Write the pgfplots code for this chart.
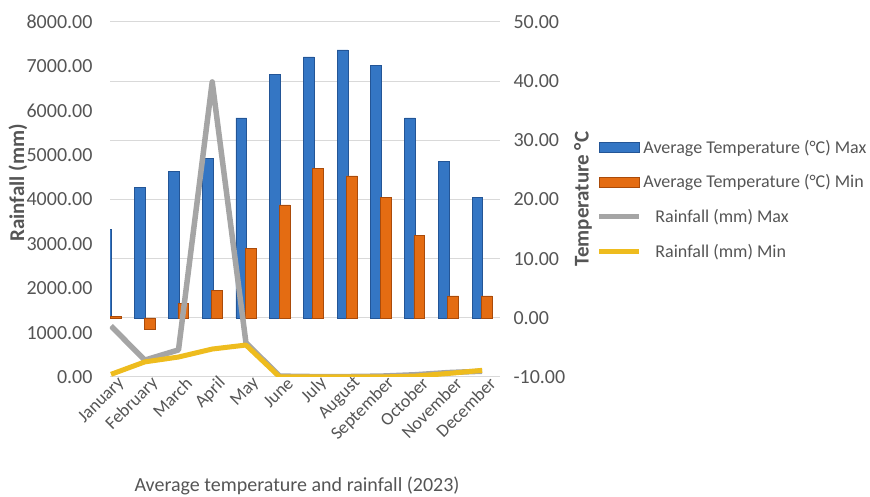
\documentclass[border=0pt]{standalone}
\usepackage{fontspec}
\setmainfont{Carlito}
\usepackage{pgfplots}
\pgfplotsset{compat=1.18}
\definecolor{tblue}{RGB}{52,118,196}
\definecolor{tblueE}{RGB}{35,85,150}
\definecolor{torange}{RGB}{228,108,18}
\definecolor{torangeE}{RGB}{170,75,10}
\definecolor{rgray}{RGB}{165,165,165}
\definecolor{ryellow}{RGB}{238,188,30}
\definecolor{txt}{RGB}{85,85,85}
\definecolor{gridc}{RGB}{217,217,217}
\begin{document}
\begin{tikzpicture}[x=1pt,y=1pt]
\useasboundingbox (0,0) rectangle (870,497);
% Temperature axis (bars, right scale)
\begin{axis}[
  at={(110pt,120pt)}, anchor=south west, scale only axis,
  width=390pt, height=355pt,
  xmin=-0.03, xmax=11.53, ymin=-10, ymax=50,
  axis line style={draw=none}, major tick length=0pt,
  ytick={-10,0,10,20,30,40,50},
  yticklabels={-10.00,0.00,10.00,20.00,30.00,40.00,50.00},
  ytick pos=right, yticklabel pos=right,
  yticklabel style={font=\fontsize{20}{22}\selectfont, text=txt, xshift=10pt},
  ymajorgrids, grid style={gridc, line width=1pt},
  xtick={0,1,2,3,4,5,6,7,8,9,10,11},
  xticklabels={January,February,March,April,May,June,July,August,September,October,November,December},
  xticklabel style={font=\fontsize{18}{20}\selectfont, text=txt, rotate=45, anchor=east, inner sep=0pt, xshift=5pt, yshift=-10pt},
]
\addplot[ybar, bar width=0.32, bar shift=-0.14, fill=tblue, draw=tblueE, line width=0.6pt]
  coordinates {(0,14.9) (1,22.0) (2,24.7) (3,27.0) (4,33.8) (5,41.2) (6,44.1) (7,45.3) (8,42.6) (9,33.8) (10,26.5) (11,20.3)};
\addplot[ybar, bar width=0.32, bar shift=0.14, fill=torange, draw=torangeE, line width=0.6pt]
  coordinates {(0,0.2) (1,-2.0) (2,2.5) (3,4.7) (4,11.8) (5,19.1) (6,25.2) (7,24.0) (8,20.4) (9,13.9) (10,3.7) (11,3.7)};
\end{axis}
% Rainfall axis (lines, left scale)
\begin{axis}[
  at={(110pt,120pt)}, anchor=south west, scale only axis,
  width=390pt, height=355pt,
  xmin=-0.03, xmax=11.53, ymin=0, ymax=8000,
  axis line style={draw=none}, major tick length=0pt,
  xtick=\empty,
  ytick={0,1000,2000,3000,4000,5000,6000,7000,8000},
  yticklabels={0.00,1000.00,2000.00,3000.00,4000.00,5000.00,6000.00,7000.00,8000.00},
  ytick pos=left, yticklabel pos=left,
  yticklabel style={font=\fontsize{20}{22}\selectfont, text=txt, xshift=-14pt},
  legend style={at={(1.248,0.672)}, anchor=north west, draw=none, fill=none,
    font=\fontsize{18}{21}\selectfont, text=txt, row sep=17pt, inner sep=0pt,
    nodes={inner sep=1.5pt}},
  legend cell align=left,
]
\addlegendimage{legend image code/.code={\draw[fill=tblue,draw=tblueE,line width=0.6pt] (0pt,-5pt) rectangle (40pt,5pt);}}
\addlegendentry{Average Temperature (°C) Max}
\addlegendimage{legend image code/.code={\draw[fill=torange,draw=torangeE,line width=0.6pt] (0pt,-5pt) rectangle (40pt,5pt);}}
\addlegendentry{Average Temperature (°C) Min}
\addplot[rgray, line width=5.5pt, line join=round,
  legend image code/.code={\draw[rgray, line width=5pt] (0pt,0pt) -- (40pt,0pt);}]
  coordinates {(0,1150) (1,380) (2,610) (3,6650) (4,770) (5,20) (6,10) (7,10) (8,20) (9,50) (10,100) (11,130)};
\addlegendentry{\hspace{12pt}Rainfall (mm) Max}
\addplot[ryellow, line width=5pt, line join=round,
  legend image code/.code={\draw[ryellow, line width=5pt] (0pt,0pt) -- (40pt,0pt);}]
  coordinates {(0,60) (1,340) (2,450) (3,630) (4,720) (5,0) (6,0) (7,0) (8,0) (9,20) (10,80) (11,150)};
\addlegendentry{\hspace{12pt}Rainfall (mm) Min}
\end{axis}
\node[rotate=90, font=\bfseries\fontsize{21}{23}\selectfont, text=txt] at (18,314) {Rainfall (mm)};
\node[rotate=90, font=\bfseries\fontsize{21}{23}\selectfont, text=txt] at (583,298) {Temperature °C};
\node[font=\fontsize{20}{22}\selectfont, text=txt] at (297,11) {Average temperature and rainfall (2023)};
\end{tikzpicture}
\end{document}
